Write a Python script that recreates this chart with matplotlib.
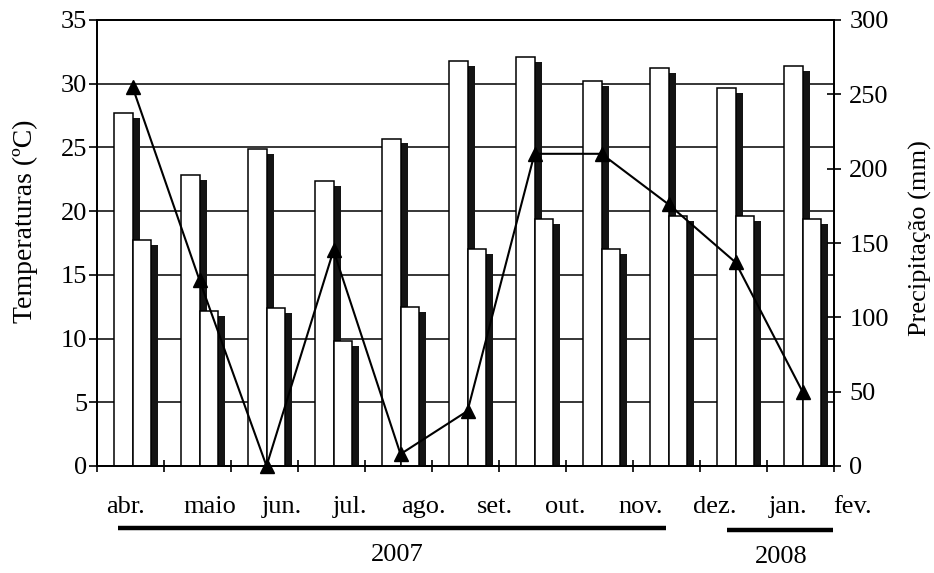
import numpy as np
import matplotlib
matplotlib.use("Agg")
import matplotlib.pyplot as plt
from matplotlib.lines import Line2D
import matplotlib.transforms as mtransforms

plt.rcParams['font.family'] = ['Liberation Serif', 'DejaVu Serif']

months = ["abr.", "maio", "jun.", "jul.", "ago.", "set.", "out.", "nov.", "dez.", "jan.", "fev."]
t_max = [27.7, 22.8, 24.9, 22.4, 25.7, 31.8, 32.1, 30.2, 31.2, 29.7, 31.4]
t_min = [17.7, 12.2, 12.4, 9.8, 12.5, 17.0, 19.4, 17.0, 19.6, 19.6, 19.4]
precip = [255, 125, 0, 145, 8, 37, 210, 210, 176, 137, 50]
years = ["2007", "2008"]

# label positions (layout, in category units)
month_label_x = [-0.08, 1.19, 2.26, 3.28, 4.37, 5.44, 6.49, 7.62, 8.72, 9.81, 10.78]
year_line_x = [(-0.19, 7.99), (8.90, 10.49)]
year_text_x = [3.98, 9.71]

x = np.arange(len(months))
tmax = np.array(t_max)
tmin = np.array(t_min)

fig = plt.figure(figsize=(9.34, 5.73), dpi=100)
ax = fig.add_axes([97/934, 1-466/573, (834-97)/934, (466-20)/573])

w = 0.28
d = 0.105
drop = 0.39
ax.bar(x - 0.25 + d, tmax - drop, width=w, align='edge', color='#141414', lw=0, zorder=2)
ax.bar(x - 0.25, tmax, width=w, align='edge', facecolor='white', edgecolor='black', lw=1.1, zorder=3)
ax.bar(x + 0.03 + d, tmin - drop, width=w, align='edge', color='#141414', lw=0, zorder=4)
ax.bar(x + 0.03, tmin, width=w, align='edge', facecolor='white', edgecolor='black', lw=1.1, zorder=5)

ax.set_xlim(-0.5, len(months) - 0.5)
ax.set_ylim(0, 35)
ax.set_yticks(np.arange(0, 36, 5))
ax.set_axisbelow(True)
ax.yaxis.grid(True, color='black', lw=1.1)
ax.set_xticks([])
ax.set_xticks(np.arange(-0.5, len(months), 1.0), minor=True)
ax.tick_params(axis='x', which='minor', direction='inout', length=9, width=1.2)
ax.tick_params(axis='y', direction='out', length=6, width=1.2, labelsize=19, pad=1)
for s in ax.spines.values():
    s.set_linewidth(1.3)

ax2 = ax.twinx()
ax2.set_ylim(0, 300)
ax2.set_yticks(np.arange(0, 301, 50))
ax2.tick_params(axis='y', direction='inout', length=10, width=1.2, labelsize=19, pad=6)
ax2.plot(x + 0.03, precip, color='black', lw=1.5, marker='^', ms=10, clip_on=False, zorder=6)
for s in ax2.spines.values():
    s.set_linewidth(1.3)

trans = mtransforms.blended_transform_factory(ax.transData, fig.transFigure)
for lx, lab in zip(month_label_x, months):
    fig.text(lx, 1 - 507/573, lab, transform=trans, ha='center', va='center', fontsize=19)

line_y = [1 - 528/573, 1 - 530/573]
text_y = [1 - 555/573, 1 - 557/573]
for (x0, x1), ly, tx, ty, yr in zip(year_line_x, line_y, year_text_x, text_y, years):
    fig.add_artist(Line2D([x0, x1], [ly, ly], transform=trans, color='black', lw=3.2, solid_capstyle='butt'))
    fig.text(tx, ty, yr, transform=trans, ha='center', va='center', fontsize=19)

fig.text(25/934, 1 - 221/573, "Temperaturas (ºC)", rotation=90, ha='center', va='center', fontsize=20)
fig.text(920/934, 1 - 238/573, "Precipitação (mm)", rotation=90, ha='center', va='center', fontsize=19)

fig.savefig("out.png", dpi=100)
